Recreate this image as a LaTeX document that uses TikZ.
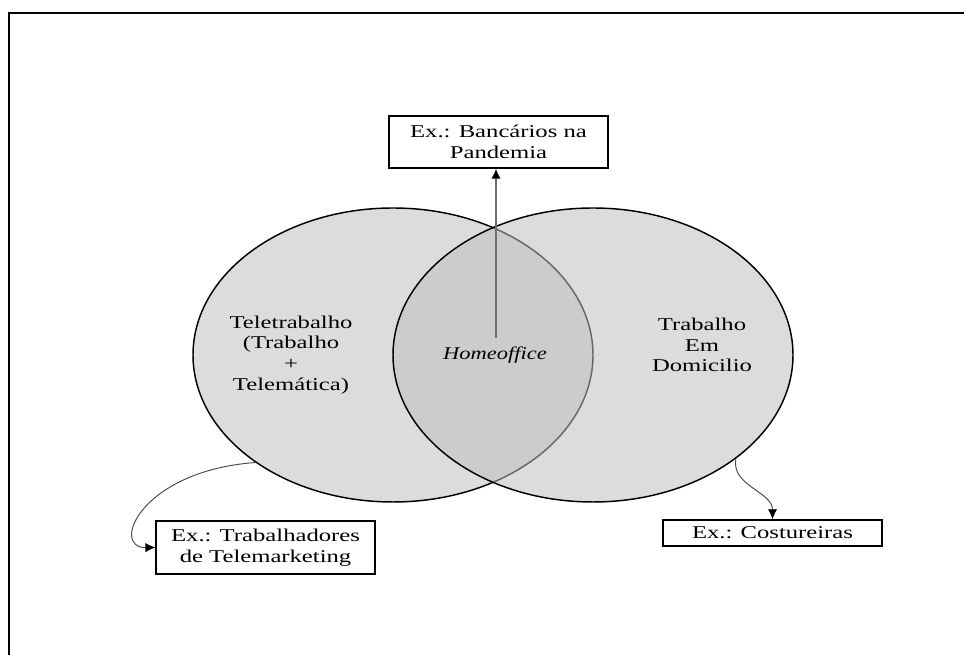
\documentclass[tikz,border=0pt]{standalone}
\usepackage{fontspec}
\setmainfont{Liberation Serif}[UprightFeatures={FakeStretch=1.37},
  ItalicFeatures={FakeStretch=1.25}]
\usetikzlibrary{arrows.meta,positioning,shapes.geometric}
\definecolor{vennfill}{RGB}{220,220,220}
\definecolor{venntop}{RGB}{191,191,191}
\definecolor{linegray}{RGB}{110,110,110}
\definecolor{curvegray}{RGB}{70,70,70}
\tikzset{
  venn/.style={ellipse, draw=black, line width=1.1pt, minimum width=300pt,
               minimum height=220.5pt, inner sep=0pt},
  exbox/.style={draw=black, fill=white, line width=1.1pt, minimum width=164pt,
                align=center, inner sep=0pt, font=\fontsize{13.5}{15.5}\selectfont},
  lbl/.style={align=center, font=\fontsize{13.5}{15.5}\selectfont},
  uparr/.style={-{Latex[length=7.5pt,width=7pt,black]}, linegray, line width=1pt},
  conn/.style={-{Latex[length=7.5pt,width=7pt,black]}, curvegray, line width=0.7pt},
}

\begin{document}
\begin{tikzpicture}[x=0.75pt,y=0.75pt]
  \useasboundingbox (0,0) rectangle (964,655);
  \draw[line width=1.5pt] (9,0) -- (9,642) -- (964,642);
  \node[venn, fill=vennfill] (tele) at (393,300) {};
  \node[venn, fill=venntop, fill opacity=0.54] (domi) at (593,300) {};
  \node[lbl] (teletxt) at (291,300) {Teletrabalho\\(Trabalho\\+\\Telemática)};
  \node[lbl] (domitxt) at (702,310) {Trabalho\\Em\\Domicilio};
  \node[lbl, font=\fontsize{13.5}{15.5}\selectfont\itshape] (home) at (495,300) {Homeoffice};
  \coordinate (hub) at (496,317);
  \node[exbox, minimum height=39pt] (banc) at (498.5,513) {Ex.: Bancários na\\Pandemia};
  \draw[uparr] (hub) -- (hub |- banc.south);
  \node[exbox, minimum height=39.75pt] (tmkt) at (265.5,107.5) {Ex.: Trabalhadores\\de Telemarketing};
  \node[exbox, minimum height=19.5pt] (cost) at (772.5,122) {Ex.: Costureiras};
  \draw[conn] (tele.-142) .. controls (140,184) and (110,107) .. (tmkt.west);
  \draw[conn] (domi.-36) to[out=-100, in=90] (cost.north);
\end{tikzpicture}
\end{document}
